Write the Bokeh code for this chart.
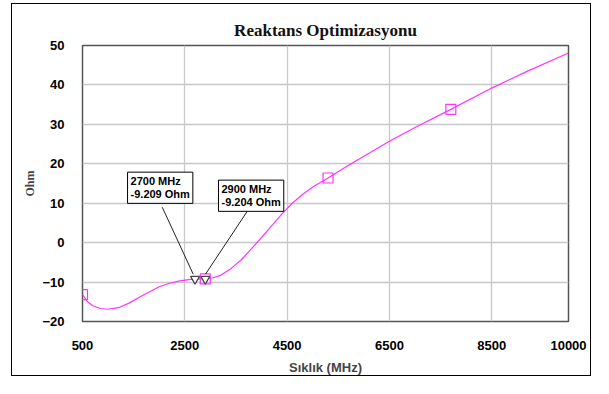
from bokeh.plotting import figure
from bokeh.models import Label, FixedTicker, Range1d
from bokeh.embed import file_html
from bokeh.resources import INLINE

# ---- data ----
freq_mhz = [500, 600, 700, 850, 1000, 1200, 1400, 1700, 2000, 2200, 2400, 2700, 2900,
            3050, 3200, 3400, 3600, 3800, 4000, 4200, 4400, 4600, 4800, 5000, 5300,
            5700, 6000, 6500, 7000, 7700, 8500, 9200, 10000]
reactance = [-13.2, -15.0, -16.0, -16.7, -16.9, -16.5, -15.4, -13.2, -11.2, -10.3, -9.7,
             -9.209, -9.204, -8.9, -8.3, -6.6, -4.4, -1.6, 1.3, 4.3, 7.3, 10.0, 12.2,
             14.1, 16.4, 19.6, 21.9, 25.7, 29.2, 33.8, 39.2, 43.5, 48.1]
square_freq = [500, 2900, 5300, 7700]
marker_freq = [2700, 2900]
x_ticks = [500, 2500, 4500, 6500, 8500, 10000]
y_ticks = [-20, -10, 0, 10, 20, 30, 40, 50]

square_val = [reactance[freq_mhz.index(f)] for f in square_freq]
marker_val = [reactance[freq_mhz.index(f)] for f in marker_freq]

X0, X1, Y0, Y1 = 500, 10000, -20, 50
FW, FH = 486, 280
W, H = 580, 373          # inner size; CSS border + margins bring it to 593 x 378

p = figure(width=W, height=H, output_backend="svg", toolbar_location=None,
           x_range=Range1d(X0, X1), y_range=Range1d(Y0, Y1),
           min_border_left=70, min_border_right=W - 70 - FW,
           min_border_top=41, min_border_bottom=H - 41 - FH,
           title="Reaktans Optimizasyonu")
p.styles = {"border": "1px solid black", "margin-left": "11px", "margin-top": "3px"}
p.background_fill_color = "white"
p.border_fill_color = "white"
p.outline_line_color = "#555555"
p.outline_line_width = 1.5

p.title.align = "center"
p.title.text_font = "Liberation Serif"
p.title.text_font_style = "bold"
p.title.text_font_size = "17px"
p.title.text_color = "#111111"
p.title.standoff = 11

for ax in (p.xaxis[0], p.yaxis[0]):
    ax.axis_line_color = None
    ax.major_tick_line_color = None
    ax.minor_tick_line_color = None
    ax.major_tick_out = 0
    ax.major_tick_in = 0
    ax.major_label_text_font = "Liberation Sans"
    ax.major_label_text_font_style = "bold"
    ax.major_label_text_font_size = "13px"
    ax.major_label_text_color = "black"

p.xaxis.ticker = FixedTicker(ticks=x_ticks)
p.yaxis.ticker = FixedTicker(ticks=y_ticks)
p.xaxis.major_label_standoff = 19
p.yaxis.major_label_standoff = 18

p.xaxis.axis_label = "Sıklık (MHz)"
p.xaxis.axis_label_text_font = "Liberation Sans"
p.xaxis.axis_label_text_font_style = "bold"
p.xaxis.axis_label_text_font_size = "13px"
p.xaxis.axis_label_standoff = 7
p.yaxis.axis_label = "Ohm"
p.yaxis.axis_label_text_font = "Liberation Serif"
p.yaxis.axis_label_text_font_style = "bold"
p.yaxis.axis_label_text_font_size = "12px"
p.yaxis.axis_label_standoff = 2

p.xgrid.ticker = FixedTicker(ticks=x_ticks[1:-1])
p.ygrid.ticker = FixedTicker(ticks=y_ticks[1:-1])
p.xgrid.grid_line_color = "#c8c8c8"
p.ygrid.grid_line_color = "#c8c8c8"
p.xgrid.grid_line_width = 1.3
p.ygrid.grid_line_width = 1.3

p.line(freq_mhz, reactance, line_color="#ff33ff", line_width=1.2)
p.scatter(square_freq, square_val, marker="square", size=10, fill_color=None,
          line_color="#ff33ff", line_width=1.2)

# pixel -> data conversion for annotation placement
dxp = (X1 - X0) / FW
dyp = (Y1 - Y0) / FH

# leader lines (pixel offsets from markers)
leader = [((-32.8, 72.8), (-1.8, 4.8)), ((41.9, 68.5), (0.2, 4.8))]
xs0, ys0, xs1, ys1 = [], [], [], []
for (f, v), (s, e) in zip(zip(marker_freq, marker_val), leader):
    xs0.append(f + s[0] * dxp); ys0.append(v + s[1] * dyp)
    xs1.append(f + e[0] * dxp); ys1.append(v + e[1] * dyp)
p.segment(xs0, ys0, xs1, ys1, line_color="#222222", line_width=1)

p.scatter(marker_freq, marker_val, marker="inverted_triangle", size=9,
          fill_color="white", line_color="#444444", line_width=1.2)

box_offsets = [(-67.5, 106.8), (13.2, 98.8)]
for f, v, (ox, oy) in zip(marker_freq, marker_val, box_offsets):
    txt = f"{f} MHz\n{v} Ohm"
    common = dict(x=f, y=v, text=txt, text_font="Liberation Sans",
                  text_font_style="bold", text_font_size="11px",
                  text_align="left", text_baseline="top", padding=3,
                  text_line_height=1.1)
    p.add_layout(Label(x_offset=ox + 2, y_offset=oy - 2, text_alpha=0,
                       background_fill_color="#444444", **common))
    p.add_layout(Label(x_offset=ox, y_offset=oy, text_color="black",
                       background_fill_color="white", border_line_color="black",
                       border_line_width=1, **common))

open("out.html", "w").write(file_html(p, INLINE))
